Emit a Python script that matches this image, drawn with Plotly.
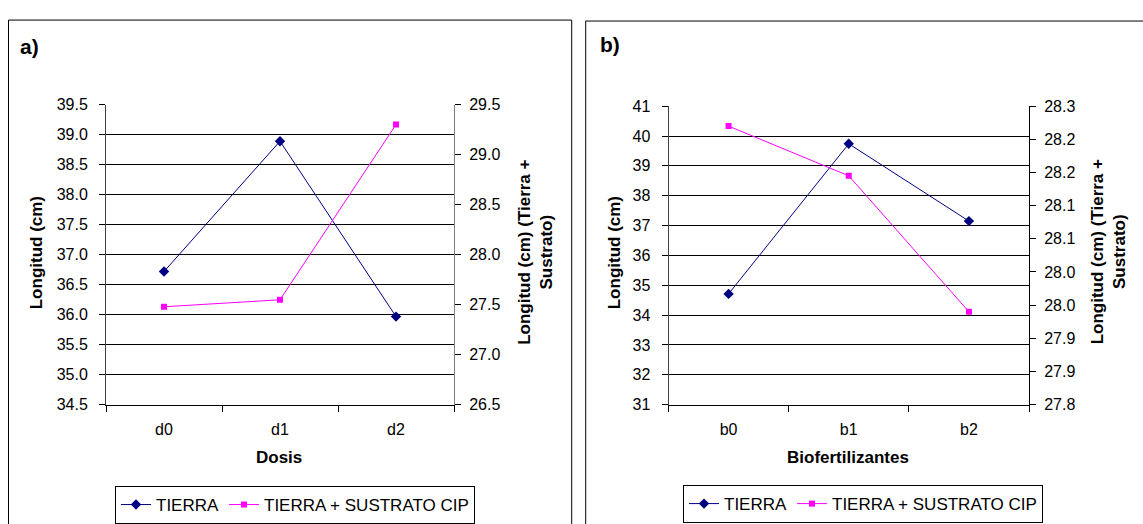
import plotly.graph_objects as go

# ---------------- data ----------------
categories_a = ["d0", "d1", "d2"]
tierra_a = [36.72, 38.89, 35.97]
sustrato_a = [27.48, 27.55, 29.30]

categories_b = ["b0", "b1", "b2"]
tierra_b = [34.71, 39.74, 37.15]
sustrato_b = [28.22, 28.145, 27.94]

series_names = ["TIERRA", "TIERRA + SUSTRATO CIP"]

left_ticks_a = [34.5, 35.0, 35.5, 36.0, 36.5, 37.0, 37.5, 38.0, 38.5, 39.0, 39.5]
right_ticks_a = [26.5, 27.0, 27.5, 28.0, 28.5, 29.0, 29.5]
right_text_a = ["26.5", "27.0", "27.5", "28.0", "28.5", "29.0", "29.5"]

left_ticks_b = [31, 32, 33, 34, 35, 36, 37, 38, 39, 40, 41]
right_ticks_b = [27.80, 27.85, 27.90, 27.95, 28.00, 28.05, 28.10, 28.15, 28.20, 28.25]
right_text_b = ["27.8", "27.9", "27.9", "28.0", "28.0", "28.1", "28.1", "28.2", "28.2", "28.3"]

panel_titles = ["a)", "b)"]
x_titles = ["Dosis", "Biofertilizantes"]
y_title = "Longitud (cm)"
y2_title = "Longitud (cm) (Tierra +<br>Sustrato)"

# ---------------- geometry helpers ----------------
W, H = 1143, 524
FONT = "Liberation Sans, Arial, sans-serif"
NAVY = "#000080"
MAG = "#FF00FF"


def px(x):
    return x / W


def py(y):
    return 1 - y / H


fig = go.Figure()

# panel a
fig.add_trace(go.Scatter(x=categories_a, y=tierra_a, name=series_names[0], mode="lines+markers",
                         line=dict(color=NAVY, width=1), marker=dict(symbol="diamond", size=8, color=NAVY),
                         xaxis="x", yaxis="y", legend="legend"))
fig.add_trace(go.Scatter(x=categories_a, y=sustrato_a, name=series_names[1], mode="lines+markers",
                         line=dict(color=MAG, width=1), marker=dict(symbol="square", size=6, color=MAG),
                         xaxis="x", yaxis="y2", legend="legend"))
# panel b
fig.add_trace(go.Scatter(x=categories_b, y=tierra_b, name=series_names[0], mode="lines+markers",
                         line=dict(color=NAVY, width=1), marker=dict(symbol="diamond", size=8, color=NAVY),
                         xaxis="x2", yaxis="y4", legend="legend2"))
fig.add_trace(go.Scatter(x=categories_b, y=sustrato_b, name=series_names[1], mode="lines+markers",
                         line=dict(color=MAG, width=1), marker=dict(symbol="square", size=6, color=MAG),
                         xaxis="x2", yaxis="y5", legend="legend2"))

tickfont = dict(family=FONT, size=16, color="black")

xcommon = dict(type="category", range=[-0.5, 2.5], showline=True, linecolor="black", linewidth=1,
               ticks="outside", tickson="boundaries", ticklen=6, tickcolor="black",
               showgrid=False, zeroline=False, tickfont=tickfont, fixedrange=True,
               ticklabelstandoff=10)

ycommon_left = dict(showgrid=True, gridcolor="black", gridwidth=1, showline=True, linecolor="#404040",
                    ticks="outside", ticklen=6, tickcolor="black", zeroline=False, tickfont=tickfont,
                    ticklabelstandoff=8)

yright = dict(side="right", showgrid=False, showline=True, ticks="outside", ticklen=6,
              tickcolor="black", zeroline=False, tickfont=tickfont, ticklabelstandoff=5)

yinside = dict(side="right", showgrid=False, showline=False, ticks="inside", ticklen=4,
               tickcolor="black", zeroline=False, showticklabels=False)

dom_a_y = [py(411), py(100)]
dom_b_y = [py(410.7), py(101.7)]

legfont = dict(family=FONT, size=17, color="black")

fig.update_layout(
    width=W, height=H, margin=dict(l=0, r=0, t=0, b=0),
    paper_bgcolor="white", plot_bgcolor="white",
    font=dict(family=FONT, size=16, color="black"),
    xaxis=dict(domain=[px(106), px(454)], anchor="y", **xcommon),
    yaxis=dict(domain=dom_a_y, anchor="x", range=[34.5, 39.5], tickvals=left_ticks_a,
               tickformat=".1f", **ycommon_left),
    yaxis2=dict(overlaying="y", anchor="x", range=[26.5, 29.5], tickvals=right_ticks_a,
                ticktext=right_text_a, linecolor="#808080", **yright),
    yaxis3=dict(overlaying="y", anchor="x", range=[26.5, 29.5], tickvals=right_ticks_a, **yinside),
    xaxis2=dict(domain=[px(668.5), px(1029)], anchor="y4", **xcommon),
    yaxis4=dict(domain=dom_b_y, anchor="x2", range=[31, 41], tickvals=left_ticks_b,
                tickformat="d", **ycommon_left),
    yaxis5=dict(overlaying="y4", anchor="x2", range=[27.8, 28.25], tickvals=right_ticks_b,
                ticktext=right_text_b, linecolor="black", **yright),
    yaxis6=dict(overlaying="y4", anchor="x2", range=[27.8, 28.25], tickvals=right_ticks_b, **yinside),
    legend=dict(orientation="h", x=px(115), xanchor="left", y=py(495), yanchor="top",
                bordercolor="black", borderwidth=1, bgcolor="white", font=legfont, itemwidth=30),
    legend2=dict(orientation="h", x=px(683), xanchor="left", y=py(494), yanchor="top",
                 bordercolor="black", borderwidth=1, bgcolor="white", font=legfont, itemwidth=30),
    showlegend=True,
)

# panel borders
fig.add_shape(type="rect", xref="paper", yref="paper", x0=px(8.5), y0=py(560), x1=px(571.7), y1=py(12.5),
              line=dict(color="black", width=1), fillcolor="rgba(0,0,0,0)", layer="below")
fig.add_shape(type="rect", xref="paper", yref="paper", x0=px(585.7), y0=py(560), x1=px(1180), y1=py(13.5),
              line=dict(color="black", width=1), fillcolor="rgba(0,0,0,0)", layer="below")

bold = dict(family=FONT, size=17, color="black")
ann = []
# panel titles
ann.append(dict(text="<b>%s</b>" % panel_titles[0], x=px(18), y=py(40), xanchor="left", yanchor="middle",
                font=dict(family=FONT, size=21, color="black")))
ann.append(dict(text="<b>%s</b>" % panel_titles[1], x=px(598), y=py(38), xanchor="left", yanchor="middle",
                font=dict(family=FONT, size=21, color="black")))
# x titles
ann.append(dict(text="<b>%s</b>" % x_titles[0], x=px(279), y=py(465), xanchor="center", yanchor="middle", font=bold))
ann.append(dict(text="<b>%s</b>" % x_titles[1], x=px(848), y=py(465), xanchor="center", yanchor="middle", font=bold))
# y titles
ann.append(dict(text="<b>%s</b>" % y_title, x=px(36), y=py(254), textangle=-90, xanchor="center",
                yanchor="middle", font=bold))
ann.append(dict(text="<b>%s</b>" % y_title, x=px(614), y=py(254), textangle=-90, xanchor="center",
                yanchor="middle", font=bold))
ann.append(dict(text="<b>%s</b>" % y2_title, x=px(535.5), y=py(253), textangle=-90, xanchor="center",
                yanchor="middle", font=bold))
ann.append(dict(text="<b>%s</b>" % y2_title, x=px(1108), y=py(253), textangle=-90, xanchor="center",
                yanchor="middle", font=bold))
for a in ann:
    a.update(xref="paper", yref="paper", showarrow=False)
fig.update_layout(annotations=ann)

fig.write_html("out.html")
